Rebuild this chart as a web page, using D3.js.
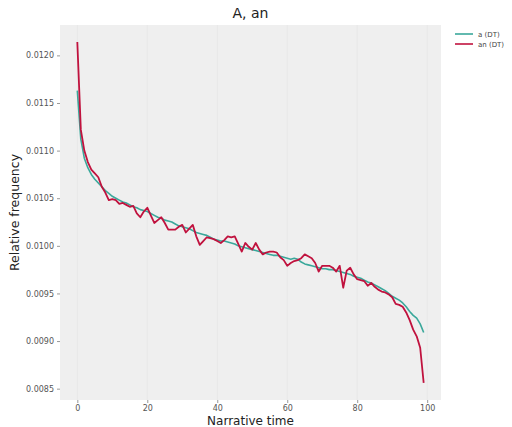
<!DOCTYPE html>
<html><head><meta charset="utf-8">
<script src="https://cdn.jsdelivr.net/npm/d3@7"></script>
<style>body{margin:0;background:#fff;} svg{display:block;font-family:"DejaVu Sans",sans-serif;}</style>
</head><body>
<svg id="c" width="512" height="427"></svg>
<script>
const title = "A, an";
const xLabel = "Narrative time";
const yLabel = "Relative frequency";
const seriesNames = ["a (DT)", "an (DT)"];
const seriesColors = ["#3aa89b", "#c0123e"];
const xTicks = [0, 20, 40, 60, 80, 100];
const yTicks = [0.0085, 0.0090, 0.0095, 0.0100, 0.0105, 0.0110, 0.0115, 0.0120];
const aValues = [0.01163,0.01112,0.01092,0.01082,0.01075,0.01070,0.01066,0.01062,0.01058,0.01055,
0.01052,0.01050,0.01048,0.01046,0.01045,0.01043,0.01041,0.01040,0.01038,0.01037,
0.01036,0.01034,0.01032,0.01030,0.01029,0.01027,0.01026,0.01025,0.01023,0.01021,
0.01020,0.01019,0.01018,0.01016,0.01014,0.01013,0.01012,0.01011,0.01009,0.01007,
0.01006,0.01005,0.01005,0.01004,0.01003,0.01002,0.01000,0.00999,0.00998,0.00997,
0.00996,0.00995,0.00994,0.00993,0.00992,0.00991,0.00990,0.00990,0.00989,0.00988,
0.00987,0.00986,0.00987,0.00986,0.00983,0.00981,0.00980,0.00979,0.00978,0.00977,
0.00976,0.00976,0.00975,0.00975,0.00974,0.00973,0.00972,0.00971,0.00970,0.00968,
0.00967,0.00966,0.00964,0.00962,0.00961,0.00959,0.00957,0.00955,0.00953,0.00950,
0.00947,0.00945,0.00943,0.00940,0.00936,0.00931,0.00927,0.00924,0.00918,0.00909];
const anValues = [0.01214,0.01122,0.01100,0.01088,0.01080,0.01076,0.01072,0.01062,0.01056,0.01048,
0.01049,0.01048,0.01044,0.01045,0.01043,0.01041,0.01042,0.01034,0.01030,0.01036,
0.01040,0.01032,0.01024,0.01027,0.01030,0.01024,0.01017,0.01017,0.01017,0.01020,
0.01022,0.01014,0.01018,0.01022,0.01010,0.01001,0.01005,0.01009,0.01008,0.01007,
0.01005,0.01003,0.01006,0.01010,0.01009,0.01010,0.01002,0.00994,0.01003,0.00999,
0.00996,0.01003,0.00996,0.00991,0.00993,0.00994,0.00994,0.00993,0.00988,0.00985,
0.00979,0.00982,0.00984,0.00985,0.00987,0.00991,0.00989,0.00987,0.00982,0.00973,
0.00979,0.00979,0.00979,0.00977,0.00973,0.00979,0.00956,0.00974,0.00977,0.00970,
0.00965,0.00964,0.00963,0.00958,0.00961,0.00957,0.00954,0.00952,0.00951,0.00949,
0.00946,0.00939,0.00938,0.00936,0.00930,0.00922,0.00912,0.00905,0.00893,0.00856];
const series = [aValues, anValues];

const svg = d3.select("#c");
const L = 60, R = 441, T = 25, B = 400;
const n = aValues.length;
const xPad = (n - 1) * 0.05;
const x = d3.scaleLinear().domain([-xPad, n - 1 + xPad]).range([L, R]);
const all = aValues.concat(anValues);
const ymin = d3.min(all), ymax = d3.max(all), yPad = (ymax - ymin) * 0.05;
const y = d3.scaleLinear().domain([ymin - yPad, ymax + yPad]).range([B, T]);

svg.append("rect").attr("x", L).attr("y", T).attr("width", R - L).attr("height", B - T).attr("fill", "#efefef");
svg.append("g").selectAll("line").data(xTicks).join("line")
  .attr("x1", d => x(d)).attr("x2", d => x(d)).attr("y1", T).attr("y2", B)
  .attr("stroke", "#e8e8e8").attr("stroke-width", 1);

const xAxis = svg.append("g").attr("transform", `translate(0,${B})`)
  .call(d3.axisBottom(x).tickValues(xTicks).tickSize(3).tickPadding(2).tickFormat(d3.format("d")));
const yAxis = svg.append("g").attr("transform", `translate(${L},0)`)
  .call(d3.axisLeft(y).tickValues(yTicks).tickSize(3).tickPadding(3).tickFormat(d3.format(".4f")));
[xAxis, yAxis].forEach(g => {
  g.select(".domain").remove();
  g.selectAll(".tick line").attr("stroke", "#999");
  g.selectAll(".tick text").attr("fill", "#555").attr("font-size", "8px").attr("font-family", "DejaVu Sans, sans-serif");
});

const line = d3.line().x((d, i) => x(i)).y(d => y(d));
series.forEach((s, k) => {
  svg.append("path").datum(s).attr("d", line).attr("fill", "none")
    .attr("stroke", seriesColors[k]).attr("stroke-width", k === 1 ? 1.8 : 1.6).attr("stroke-linejoin", "round");
});

svg.append("text").attr("x", (L + R) / 2).attr("y", 18).attr("text-anchor", "middle")
  .attr("font-size", "14px").attr("fill", "#222").text(title);
svg.append("text").attr("x", (L + R) / 2).attr("y", 425).attr("text-anchor", "middle")
  .attr("font-size", "12px").attr("fill", "#222").text(xLabel);
svg.append("text").attr("transform", `translate(19,${(T + B) / 2}) rotate(-90)`).attr("text-anchor", "middle")
  .attr("font-size", "12.5px").attr("fill", "#222").text(yLabel);

const leg = svg.append("g");
seriesNames.forEach((nm, k) => {
  const yy = 34 + k * 10;
  leg.append("line").attr("x1", 455).attr("x2", 473).attr("y1", yy).attr("y2", yy)
    .attr("stroke", seriesColors[k]).attr("stroke-width", 1.6);
  leg.append("text").attr("x", 478).attr("y", yy + 2.5).attr("font-size", "7px").attr("fill", "#444").text(nm);
});
</script>
</body></html>
